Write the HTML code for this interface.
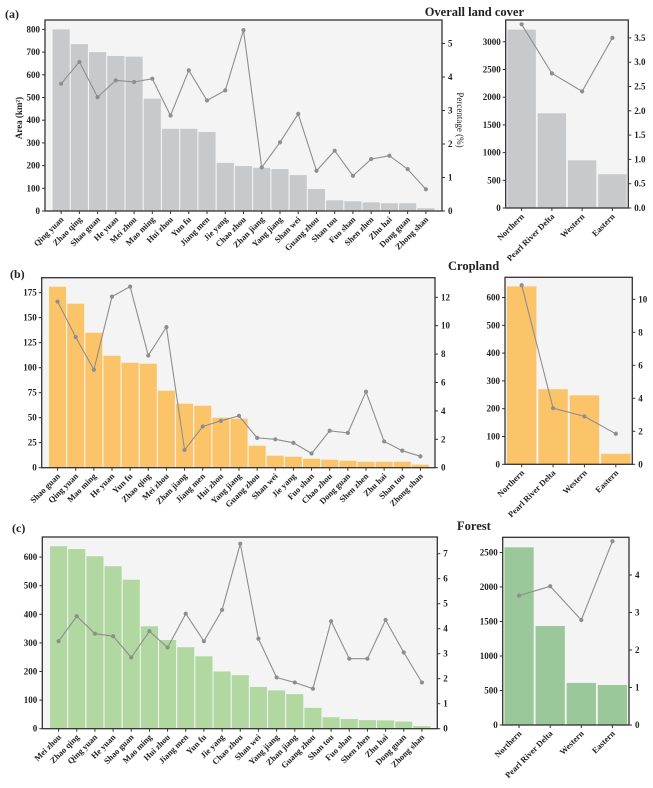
<!DOCTYPE html>
<html><head><meta charset="utf-8"><style>
html,body{margin:0;padding:0;background:#fff}
svg{display:block;font-family:"Liberation Serif",serif;font-weight:bold}
</style></head><body>
<svg id="c" width="653" height="788" viewBox="0 0 653 788"></svg>
<script>
const catsA = ["Qing yuan","Zhao qing","Shao guan","He yuan","Mei zhou","Mao ming","Hui zhou","Yun fu","Jiang men","Jie yang","Chao zhou","Zhan jiang","Yang jiang","Shan wei","Guang zhou","Shan tou","Fuo shan","Shen zhen","Zhu hai","Dong guan","Zhong shan"];
const areaA = [800,735,700,683,680,495,362,362,348,212,198,190,185,158,97,47,43,38,34,34,12];
const pctA = [3.8,4.45,3.4,3.9,3.85,3.95,2.85,4.2,3.3,3.6,5.4,1.3,2.05,2.9,1.2,1.8,1.05,1.55,1.65,1.25,0.65];
const catsB = ["Shao guan","Qing yuan","Mao ming","He yuan","Yun fu","Zhao qing","Mei zhou","Zhan jiang","Jiang men","Hui zhou","Yang jiang","Guang zhou","Shan wei","Jie yang","Fuo shan","Chao zhou","Dong guan","Shen zhen","Zhu hai","Shan tou","Zhong shan"];
const areaB = [181,164,135,112,105,104,77,64,62,50,49,22,12,11,9,8,7,6,6,6,3];
const pctB = [11.7,9.2,6.9,12.05,12.75,7.9,9.9,1.25,2.9,3.3,3.65,2.1,2.0,1.75,1.0,2.6,2.45,5.35,1.85,1.2,0.8];
const catsC = ["Mei zhou","Zhao qing","Qing yuan","He yuan","Shao guan","Mao ming","Hui zhou","Jiang men","Yun fu","Jie yang","Chao zhou","Shan wei","Yang jiang","Zhan jiang","Guang zhou","Shan tou","Fuo shan","Shen zhen","Zhu hai","Dong guan","Zhong shan"];
const areaC = [638,628,603,568,521,358,310,285,253,200,187,146,134,121,73,40,34,30,29,25,9];
const pctC = [3.5,4.5,3.8,3.7,2.85,3.9,3.25,4.6,3.5,4.75,7.4,3.6,2.05,1.85,1.6,4.3,2.8,2.8,4.35,3.05,1.85];
const regions = ["Northern","Pearl River Delta","Western","Eastern"];
const regAreaA = [3220,1710,860,610];
const regPctA = [3.78,2.77,2.4,3.5];
const regAreaB = [640,270,248,38];
const regPctB = [10.85,3.4,2.9,1.85];
const regAreaC = [2575,1435,610,580];
const regPctC = [3.45,3.7,2.8,4.9];
const ticksA = [0,100,200,300,400,500,600,700,800];
const ticksPA = [0,1,2,3,4,5];
const ticksRA = [0,500,1000,1500,2000,2500,3000];
const ticksRPA = ["0.0","0.5","1.0","1.5","2.0","2.5","3.0","3.5"];
const ticksB = [0,25,50,75,100,125,150,175];
const ticksPB = [0,2,4,6,8,10,12];
const ticksRB = [0,100,200,300,400,500,600];
const ticksRPB = [0,2,4,6,8,10];
const ticksC = [0,100,200,300,400,500,600];
const ticksPC = [0,1,2,3,4,5,6,7];
const ticksRC = [0,500,1000,1500,2000,2500];
const ticksRPC = [0,1,2,3,4];

const NS="http://www.w3.org/2000/svg";
const svg=document.getElementById('c');
function mk(tag,attrs,parent,text){const e=document.createElementNS(NS,tag);for(const k in attrs)e.setAttribute(k,attrs[k]);if(text!==undefined)e.textContent=text;(parent||svg).appendChild(e);return e;}

function panel(p){
  const g=mk('g',{});
  
  
  const bg=mk('rect',{x:p.x0,y:p.top,width:p.x1-p.x0,height:p.bot-p.top,fill:'#f4f4f4'},g);
  
  
  const n=p.cats.length;
  const step=(p.bx1-p.bx0)/n;
  const xc=i=>p.bx0+step*(i+0.5);
  const yL=v=>p.bot-(v-0)/p.lPer*p.lPx;
  const yR=v=>p.bot-(v-0)/p.rPer*p.rPx;
  p.vals.forEach((v,i)=>{
    const r=mk('rect',{x:xc(i)-step*0.47,y:yL(v),width:step*0.94,height:p.bot-yL(v),fill:p.color},g);
    
    
  });
  const pts=p.pcts.map((v,i)=>xc(i).toFixed(1)+','+yR(v).toFixed(1)).join(' ');
  const pl=mk('polyline',{points:pts,fill:'none',stroke:'#8e8e8e','stroke-width':1.1},g);
  
  
  p.pcts.forEach((v,i)=>{
    const c=mk('circle',{cx:xc(i),cy:yR(v),r:2.1,fill:'#8e8e8e'},g);
    
    
  });
  const fr=mk('rect',{x:p.x0,y:p.top,width:p.x1-p.x0,height:p.bot-p.top,fill:'none',stroke:'#333','stroke-width':1.3},g);
  
  
  p.lt.forEach(t=>{
    const y=yL(+t);
    mk('line',{x1:p.x0-3,x2:p.x0,y1:y,y2:y,stroke:'#333'},g);
    const tx=mk('text',{x:p.x0-5,y:y+3,'text-anchor':'end','font-size':9,fill:'#222'},g,t);
    
    
  });
  p.rt.forEach(t=>{
    const y=yR(+t);
    mk('line',{x1:p.x1,x2:p.x1+3,y1:y,y2:y,stroke:'#333'},g);
    const tx=mk('text',{x:p.x1+6,y:y+3,'text-anchor':'start','font-size':9,fill:'#222'},g,t);
    
    
  });
  p.cats.forEach((c,i)=>{
    const x=xc(i);
    mk('line',{x1:x,x2:x,y1:p.bot,y2:p.bot+3,stroke:'#333'},g);
    const tx=mk('text',{x:x+3,y:p.bot+9,'text-anchor':'end','font-size':8.5,fill:'#222',transform:'rotate(-45 '+(x+3)+' '+(p.bot+9)+')'},g,c);
    
    
  });
}
function lbl(x,y,t,size,name,anchor,extra){const e=mk('text',Object.assign({x:x,y:y,'font-size':size,fill:'#222','text-anchor':anchor||'start'},extra||{}),svg,t);return e;}

panel({name:'panel-a-cities',x0:45,x1:442,top:20,bot:211,bx0:52,bx1:435,cats:catsA,vals:areaA,pcts:pctA,color:'#c8c9cb',lPer:100,lPx:22.7,rPer:1,rPx:33.5,lt:ticksA,rt:ticksPA});
panel({name:'panel-a-regions',x0:505.7,x1:628.3,top:20,bot:208,bx0:506.5,bx1:627.5,cats:regions,vals:regAreaA,pcts:regPctA,color:'#c8c9cb',lPer:500,lPx:27.7,rPer:0.5,rPx:24.3,lt:ticksRA,rt:ticksRPA});
panel({name:'panel-b-cities',x0:41.7,x1:435,top:277.7,bot:467.7,bx0:48.5,bx1:429.5,cats:catsB,vals:areaB,pcts:pctB,color:'#fbc469',lPer:25,lPx:25,rPer:2,rPx:28.4,lt:ticksB,rt:ticksPB});
panel({name:'panel-b-regions',x0:505,x1:632.3,top:277.3,bot:464.3,bx0:506,bx1:631.5,cats:regions,vals:regAreaB,pcts:regPctB,color:'#fbc469',lPer:100,lPx:27.8,rPer:2,rPx:33,lt:ticksRB,rt:ticksRPB});
panel({name:'panel-c-cities',x0:42.3,x1:437.3,top:537,bot:728.7,bx0:49.5,bx1:431,cats:catsC,vals:areaC,pcts:pctC,color:'#b0d8a0',lPer:100,lPx:28.6,rPer:1,rPx:25,lt:ticksC,rt:ticksPC});
panel({name:'panel-c-regions',x0:502.7,x1:629,top:537.3,bot:725,bx0:503.5,bx1:628,cats:regions,vals:regAreaC,pcts:regPctC,color:'#9bc89b',lPer:500,lPx:34.5,rPer:1,rPx:37.5,lt:ticksRC,rt:ticksRPC});

lbl(5,18,'(a)',12,'panel-a-label');
lbl(10,278,'(b)',12,'panel-b-label');
lbl(12,532,'(c)',12,'panel-c-label');
lbl(524,16,'Overall land cover',12.5,'overall-title','end');
lbl(448,270,'Cropland',12.5,'cropland-title');
lbl(457,530,'Forest',12.5,'forest-title');
lbl(22,118,'Area (km²)',9,'y-axis-title','middle',{transform:'rotate(-90 22 118)'});
lbl(457,120,'Percentage (%)',9,'y2-axis-title','middle',{transform:'rotate(90 457 120)','font-weight':'normal'});
</script>
</body></html>
